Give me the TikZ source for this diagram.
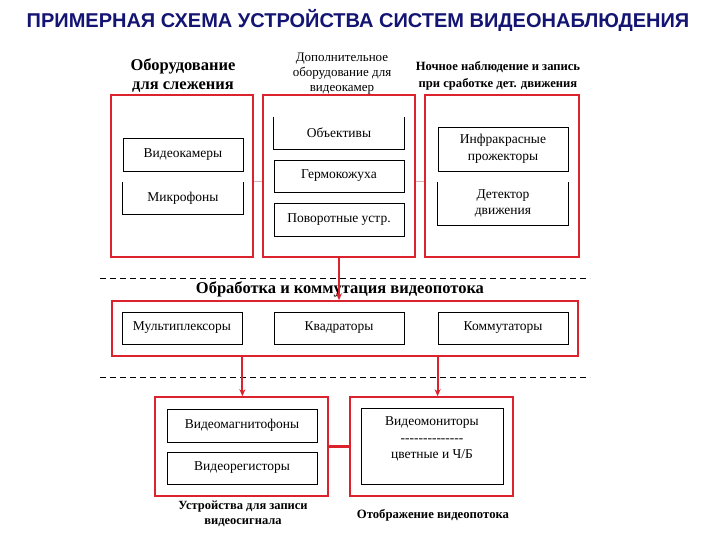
\documentclass[tikz,border=0pt]{standalone}
\usepackage{fontspec}
\setmainfont{Liberation Serif}
\newfontfamily\titlefont{Liberation Sans}
\usetikzlibrary{arrows.meta}
\definecolor{framered}{RGB}{220,35,45}
\definecolor{titleblue}{RGB}{20,20,115}
\definecolor{linkpink}{RGB}{225,175,175}
\tikzset{
    group/.style={draw=framered,line width=1.6pt,inner sep=0pt},
    unit/.style={draw=black,line width=0.8pt,inner sep=0pt,align=center,
        font=\fontsize{13.5}{16.5}\selectfont},
    openunit/.style={unit,draw=none},
    heading/.style={align=center,inner sep=0pt,font=\fontsize{16.5}{19}\selectfont\bfseries},
    smallhead/.style={align=center,inner sep=0pt,font=\fontsize{13}{15}\selectfont},
    feed/.style={draw=framered,line width=2pt,-{Stealth[length=7pt,width=6pt]}},
}
\begin{document}
\begin{tikzpicture}[x=1pt,y=-1pt]
    \useasboundingbox[fill=white] (0,0) rectangle (720,540);

    % title
    \node[font=\titlefont\bfseries\fontsize{20}{22}\selectfont,text=titleblue,inner sep=0pt]
        (title) at (358,20) {ПРИМЕРНАЯ СХЕМА УСТРОЙСТВА СИСТЕМ ВИДЕОНАБЛЮДЕНИЯ};

    % top row of groups
    \node[group,minimum width=142pt,minimum height=162pt] (track) at (182,176) {};
    \node[group,minimum width=152pt,minimum height=162pt] (extra) at (339,176) {};
    \node[group,minimum width=154pt,minimum height=162pt] (night) at (502,176) {};

    \node[heading] (trackhead) at (183,76) {Оборудование\\для слежения};
    \node[smallhead] (extrahead) at (342,73.5) {Дополнительное\\оборудование для\\видеокамер};
    \node[heading,font=\fontsize{12.6}{17}\selectfont\bfseries] (nighthead) at (498,76)
        {Ночное наблюдение и запись\\при сработке дет. движения};

    % units for tracking
    \node[unit,minimum width=120pt,minimum height=33pt] (cam) at (183,154.5) {Видеокамеры};
    \node[openunit,minimum width=120pt,minimum height=32pt] (mic) at (183,198) {Микрофоны};
    \draw[line width=0.8pt] (mic.north west) -- (mic.south west) -- (mic.south east) -- (mic.north east);

    % units for cameras
    \node[openunit,minimum width=130pt,minimum height=32pt] (lens) at (339,133) {Объективы};
    \draw[line width=0.8pt] (lens.north west) -- (lens.south west) -- (lens.south east) -- (lens.north east);
    \node[unit,minimum width=130pt,minimum height=32pt] (housing) at (339,176) {Гермокожуха};
    \node[unit,minimum width=130pt,minimum height=33pt] (pan) at (339,219.5) {Поворотные устр.};

    % units for night watch
    \node[unit,minimum width=130pt,minimum height=44pt] (ir) at (503,149) {Инфракрасные\\прожекторы};
    \node[openunit,minimum width=130pt,minimum height=43pt] (motion) at (503,203.5) {Детектор\\движения};
    \draw[line width=0.8pt] (motion.north west) -- (motion.south west) -- (motion.south east) -- (motion.north east);

    % links between top groups
    \draw[linkpink,line width=1pt] (track.east |- mic.north) -- (extra.west |- mic.north);
    \draw[linkpink,line width=1pt] (extra.east |- mic.north) -- (night.west |- mic.north);

    % separators
    \draw[dashed,dash pattern=on 6pt off 4pt,line width=0.9pt] (100,278) -- (590,278);
    \draw[dashed,dash pattern=on 6pt off 4pt,line width=0.9pt] (100,377) -- (590,377);

    % processing group
    \node[heading] (prochead) at (340,289) {Обработка и коммутация видеопотока};
    \node[group,minimum width=466pt,minimum height=55pt] (proc) at (345,328.5) {};
    \node[unit,minimum width=120pt,minimum height=32pt] (mult) at (182,328) {Мультиплексоры};
    \node[unit,minimum width=130pt,minimum height=32pt] (quad) at (339,328) {Квадраторы};
    \node[unit,minimum width=130pt,minimum height=32pt] (kom) at (503,328) {Коммутаторы};

    \draw[feed] (extra.south) -- (extra.south |- proc.north);

    % recording and display
    \node[group,minimum width=173pt,minimum height=99pt] (rec) at (241.5,446.5) {};
    \node[unit,minimum width=150pt,minimum height=33pt] (vcr) at (242,425.5) {Видеомагнитофоны};
    \node[unit,minimum width=150pt,minimum height=32pt] (dvr) at (242,468) {Видеорегисторы};

    \node[group,minimum width=163pt,minimum height=99pt] (disp) at (431.5,446.5) {};
    \node[unit,minimum width=142pt,minimum height=76pt] (mon) at (432,446) {};
    \node[align=center,inner sep=0pt,font=\fontsize{13.5}{16.5}\selectfont] (montext) at (432,439)
        {Видеомониторы\\-{}-{}-{}-{}-{}-{}-{}-{}-{}-{}-{}-{}-{}-\\цветные и Ч/Б};

    \node[heading,font=\fontsize{12.5}{15}\selectfont\bfseries] (rechead) at (243,514)
        {Устройства для записи\\видеосигнала};
    \node[heading,font=\fontsize{12.7}{15}\selectfont\bfseries] (disphead) at (433,515)
        {Отображение видеопотока};

    \draw[feed] (mult.east |- proc.south) -- (mult.east |- rec.north);
    \draw[feed] (kom.west |- proc.south) -- (kom.west |- disp.north);
    \draw[draw=framered,line width=2.2pt] (rec.east) -- (disp.west);
\end{tikzpicture}
\end{document}
